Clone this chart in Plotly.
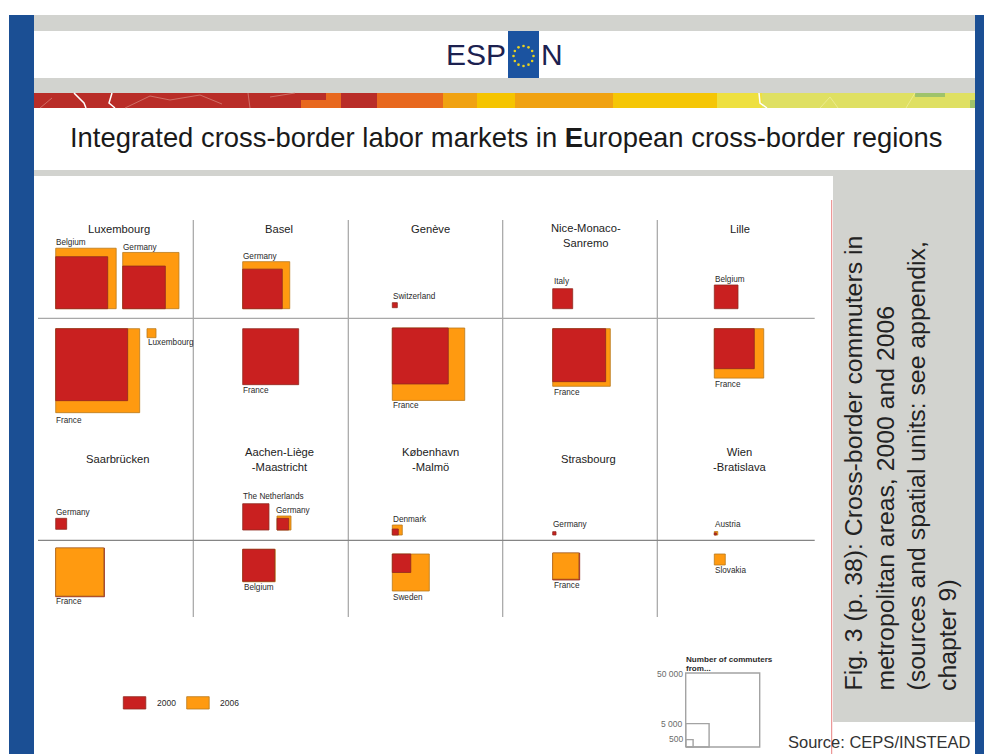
import math
import plotly.graph_objects as go

# ---------- data (commuters per origin country) ----------
regions = ["Luxembourg", "Basel", "Genève", "Nice-Monaco-<br>Sanremo", "Lille",
           "Saarbrücken", "Aachen-Liège<br>-Maastricht", "København<br>-Malmö", "Strasbourg", "Wien<br>-Bratislava"]
countries = ["Belgium", "Germany", "France", "Luxembourg",
             "Germany", "France",
             "Switzerland", "France",
             "Italy", "France",
             "Belgium", "France",
             "Germany", "France",
             "The Netherlands", "Germany", "Belgium",
             "Denmark", "Sweden",
             "Germany", "France",
             "Austria", "Slovakia"]
commuters_2000 = [24700, 16600, 47300, 0,
                  14300, 28600,
                  230, 28600,
                  3650, 25600,
                  5130, 14600,
                  1100, 21700,
                  6300, 1250, 9350,
                  330, 3120,
                  100, 6650,
                  40, 0]
commuters_2006 = [33400, 28900, 64400, 740,
                  20200, 0,
                  0, 47900,
                  0, 30300,
                  0, 22300,
                  0, 21000,
                  0, 1790, 9640,
                  910, 12500,
                  0, 6170,
                  110, 1100]
scale_values = [50000, 5000, 500]
scale_labels = ["50 000", "5 000", "500"]
legend_years = ["2000", "2006"]

# ---------- placement ----------
anchor_x = [55.7, 122.7, 55.7, 147,
            242.7, 242.7,
            392.3, 392.3,
            552.7, 552.7,
            714.3, 714.3,
            55.7, 55.7,
            242.7, 277, 242.7,
            392.3, 392.3,
            552.7, 552.7,
            714.3, 714.3]
anchor_y = [308.7, 308.7, 328.7, 328.7,
            308.7, 328.7,
            307.7, 328,
            308.7, 328.7,
            308.7, 328.7,
            529.3, 548,
            530, 530, 549.3,
            535, 554,
            535, 553,
            535, 554]
label_xy = [(56, 242), (123, 247), (56, 420), (148, 342),
            (243, 256), (243, 390),
            (393, 296), (393, 405),
            (553.5, 281.5), (553.5, 392),
            (714.5, 279), (714.5, 384),
            (56, 512.5), (56, 601),
            (243, 496), (276, 510.5), (243.5, 587),
            (392.7, 519), (393, 597),
            (553, 524), (553.5, 585),
            (714.5, 524), (714.5, 570)]
title_xy = [(119, 229), (279, 229), (430, 229), (586, 235.5), (740, 229),
            (117, 459), (279, 459.5), (430, 459.5), (588, 459), (740, 459.5)]
RED, ORANGE = "#c92020", "#ff9a10"
RED_EDGE, ORANGE_EDGE = "#8f2a20", "#b97a1c"
PX_PER_SQRT = 74 / math.sqrt(50000)

fig = go.Figure()


def square(x, y, v, fill, edge, grow_up, width=1.0):
    s = PX_PER_SQRT * math.sqrt(v)
    y2 = y - s if grow_up else y + s
    fig.add_trace(go.Scatter(x=[x, x + s, x + s, x, x], y=[y, y, y2, y2, y], mode="lines",
                             fill="toself", fillcolor=fill, line=dict(color=edge, width=width),
                             hoverinfo="skip", showlegend=False))


def text(x, y, s, size=8.2, color="#2a2a2a", anchor="left", **kw):
    fig.add_annotation(x=x, y=y, text=s, showarrow=False, xanchor=anchor, yanchor="middle",
                       font=dict(size=size, color=color, family="Liberation Sans"),
                       borderpad=0, borderwidth=0, **kw)


# ---------- page furniture ----------
def rect(x0, y0, x1, y1, color):
    return dict(type="rect", x0=x0, y0=y0, x1=x1, y1=y1, fillcolor=color, line_width=0, layer="below")


shapes = [
    rect(9, 15, 34, 754, "#1b4f94"), rect(975, 15, 984, 754, "#1b4f94"),
    rect(34, 15, 975, 31, "#d2d3cf"), rect(34, 78, 975, 93, "#d2d3cf"),
    rect(34, 170, 975, 176, "#d2d3cf"),
    rect(833, 176, 975, 722, "#d2d3cf"),
    rect(508, 31, 539, 78, "#1b53a0"),
    # map strip
    rect(34, 93, 975, 108, "#b92d28"),
    rect(301, 100, 341, 108, "#e8681e"), rect(326, 93, 341, 108, "#e8681e"),
    rect(377, 93, 443, 108, "#e8681e"), rect(443, 93, 477, 108, "#f0a212"),
    rect(477, 93, 515, 108, "#f5c400"), rect(515, 93, 613, 108, "#f0a212"),
    rect(613, 93, 717, 108, "#f5c606"), rect(717, 93, 762, 108, "#eee040"),
    rect(762, 93, 975, 108, "#dfe063"), rect(915, 93, 945, 97, "#9fc36b"),
    rect(970, 100, 975, 108, "#9fc36b"),
]
for path, col, w in [
    ("M74,93 L84,103 L86,108", "#ffffff", 1.5),
    ("M112,93 L109,103 L115,108", "#ffffff", 1.5),
    ("M759,93 L760,103 L767,108", "#ffffff", 1.5),
    ("M125,108 L150,96 L170,100 L200,95 L222,104", "#d98a80", 0.7),
    ("M248,93 L250,108 M270,97 L295,93", "#d98a80", 0.7),
    ("M820,108 L830,97 L838,108 M906,108 L915,93", "#f2f0a0", 0.7),
    ("M40,108 L52,98", "#d98a80", 0.7),
]:
    shapes.append(dict(type="path", path=path, line=dict(color=col, width=w), layer="below"))
# thin rule beside the caption panel
shapes.append(dict(type="line", x0=831.7, x1=831.7, y0=200, y1=754, line=dict(color="#e88080", width=1), layer="below"))
# grid of the small multiples
for gx in [193.3, 348.3, 502.7, 657.3]:
    shapes.append(dict(type="line", x0=gx, x1=gx, y0=220, y1=617, line=dict(color="#a4a4a4", width=1.2), layer="below"))
shapes.append(dict(type="line", x0=38, x1=814.7, y0=318.3, y1=318.3, line=dict(color="#a8a8a8", width=1.2), layer="below"))
shapes.append(dict(type="line", x0=38, x1=814.7, y0=540.3, y1=540.3, line=dict(color="#858585", width=1.2), layer="below"))

# ---------- squares ----------
for name, ax, ay, lab, v0, v6 in zip(countries, anchor_x, anchor_y, label_xy, commuters_2000, commuters_2006):
    up = ay < 320 or 500 < ay < 540
    pair = sorted([(v0, RED, RED_EDGE), (v6, ORANGE, ORANGE_EDGE)], key=lambda p: -p[0])
    for v, fill, edge in pair:
        if v > 0:
            square(ax, ay, v, fill, edge, up, width=0.8)
    text(lab[0], lab[1], name)

for r, (tx, ty) in zip(regions, title_xy):
    text(tx, ty, r, size=11.2, color="#222222", anchor="center")

# ---------- size key ----------
for v, lab, ly in zip(scale_values, scale_labels, [674, 724, 738.5]):
    square(685.7, 747, v, "rgba(255,255,255,0)", "#a3a3a3", True, width=1.4)
    text(683, ly, lab, size=8.5, color="#6b6b6b", anchor="right")
text(686, 659, "<b>Number of commuters</b>", size=8.1)
text(686, 668, "<b>from...</b>", size=8.1)

# ---------- colour key ----------
for yr, col, edge, kx, tx in zip(legend_years, [RED, ORANGE], [RED_EDGE, ORANGE_EDGE], [123.3, 186.7], [157, 220]):
    fig.add_trace(go.Scatter(x=[kx, kx + 22.5, kx + 22.5, kx, kx], y=[696.7, 696.7, 709, 709, 696.7],
                             mode="lines", fill="toself", fillcolor=col, line=dict(color=edge, width=0.8),
                             hoverinfo="skip", showlegend=False))
    text(tx, 703, yr, size=8.5)

# ---------- logo ----------
text(505.5, 54.5, "ESP", size=30, color="#1c2150", anchor="right")
text(540.5, 54.5, "N", size=30, color="#1c2150", anchor="left")
star_x = [523.5 + 10 * math.sin(i * math.pi / 6) for i in range(12)]
star_y = [56 - 10 * math.cos(i * math.pi / 6) for i in range(12)]
fig.add_trace(go.Scatter(x=star_x, y=star_y, mode="markers", marker=dict(color="#e8d21f", size=2.6),
                         hoverinfo="skip", showlegend=False))

# ---------- headline, caption, source ----------
text(506, 137, "Integrated cross-border labor markets in <b>E</b>uropean cross-border regions",
     size=27.4, color="#1a1a1a", anchor="center")
for lx, line in zip([853, 885, 916, 947],
                    ["Fig. 3 (p. 38): Cross-border commuters in",
                     "metropolitan areas, 2000 and 2006",
                     "(sources and spatial units: see appendix,",
                     "chapter 9)"]):
    fig.add_annotation(x=lx, y=693, text=line, showarrow=False, textangle=-90, xanchor="center", yanchor="bottom",
                       font=dict(size=24.8, color="#222222", family="Liberation Sans"))
text(788, 741.5, "Source: CEPS/INSTEAD", size=16.5, color="#333333")

fig.update_layout(
    width=984, height=754, margin=dict(l=0, r=0, t=0, b=0), autosize=False,
    paper_bgcolor="white", plot_bgcolor="white", showlegend=False, shapes=shapes,
    xaxis=dict(range=[0, 984], visible=False, fixedrange=True),
    yaxis=dict(range=[754, 0], visible=False, fixedrange=True),
)
fig.write_html("out.html", include_plotlyjs=True, config=dict(displayModeBar=False),
               post_script="document.body.style.margin='0';document.documentElement.style.overflow='hidden';"
                           "document.head.insertAdjacentHTML('beforeend','<style>.js-line{stroke-linejoin:miter!important}</style>');")
